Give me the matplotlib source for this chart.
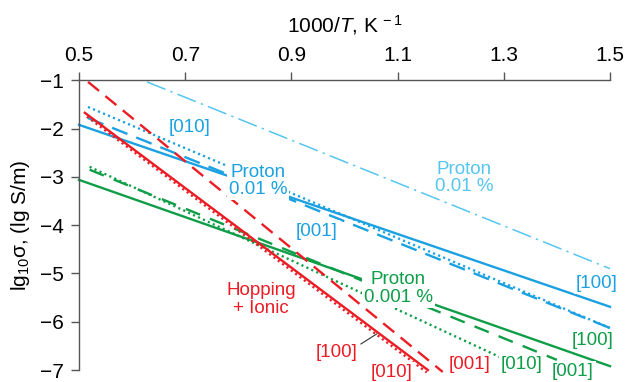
"""Conductivity vs inverse temperature (Arrhenius plot), matplotlib."""

import matplotlib
matplotlib.use("Agg")
import matplotlib.pyplot as plt

plt.rcParams["font.family"] = ["Liberation Sans", "DejaVu Sans"]
plt.rcParams["mathtext.fontset"] = "custom"
plt.rcParams["mathtext.rm"] = "Liberation Sans"
plt.rcParams["mathtext.it"] = "Liberation Sans:italic"

BLUE = "#1ba1e2"
LIGHT_BLUE = "#55c6ef"
GREEN = "#0f9d48"
RED = "#ec1c24"

# line end points (1000/T, lg sigma)
blue_100_x = [0.5, 1.5]
blue_100_y = [-1.92, -5.69]
blue_010_x = [0.517, 1.5]
blue_010_y = [-1.55, -6.13]
blue_001_x = [0.517, 1.5]
blue_001_y = [-1.78, -6.13]
proton_high_x = [0.628, 1.5]
proton_high_y = [-1.03, -4.9]

green_100_x = [0.5, 1.5]
green_100_y = [-3.06, -6.92]
green_010_x = [0.52, 1.355]
green_010_y = [-2.79, -7.05]
green_001_x = [0.52, 1.40]
green_001_y = [-2.85, -6.79]

red_100_x = [0.511, 1.157]
red_100_y = [-1.67, -7.0]
red_010_x = [0.515, 1.155]
red_010_y = [-1.75, -7.05]
red_001_x = [0.517, 1.185]
red_001_y = [-1.03, -7.04]

x_ticks = [0.5, 0.7, 0.9, 1.1, 1.3, 1.5]
y_ticks = [-1, -2, -3, -4, -5, -6, -7]

fig = plt.figure(figsize=(6.28, 3.82), dpi=100)
ax = fig.add_axes([0.1258, 0.0314, 0.8455, 0.758])

DOT = (0.9, 1.4)
lw = 1.7
ax.plot(blue_100_x, blue_100_y, color=BLUE, lw=lw, clip_on=False)
ax.plot(blue_010_x, blue_010_y, color=BLUE, lw=lw, dashes=DOT, clip_on=False)
ax.plot(blue_001_x, blue_001_y, color=BLUE, lw=lw, dashes=(7, 4), clip_on=False)
ax.plot(proton_high_x, proton_high_y, color=LIGHT_BLUE, lw=1.1,
        dashes=(13, 3.5, 1.5, 3.5), clip_on=False)

ax.plot(green_100_x, green_100_y, color=GREEN, lw=lw, clip_on=False)
ax.plot(green_010_x, green_010_y, color=GREEN, lw=lw, dashes=DOT, clip_on=False)
ax.plot(green_001_x, green_001_y, color=GREEN, lw=lw, dashes=(6.5, 4.5), clip_on=False)

ax.plot(red_100_x, red_100_y, color=RED, lw=lw, clip_on=False)
ax.plot(red_010_x, red_010_y, color=RED, lw=lw, dashes=DOT, clip_on=False)
ax.plot(red_001_x, red_001_y, color=RED, lw=lw, dashes=(6, 3.5), clip_on=False)

box = dict(facecolor="white", edgecolor="none", pad=1.5)
fs = 13.5


def label(x, y, s, color, **kw):
    ax.text(x, y, s, color=color, fontsize=fs, ha="center", va="center",
            multialignment="center", linespacing=1.05, bbox=box, **kw)


label(0.709, -1.98, "[010]", BLUE)
label(0.837, -3.08, "Proton\n0.01 %", BLUE)
label(0.948, -4.12, "[001]", BLUE)
label(1.475, -5.21, "[100]", BLUE)
label(1.225, -3.02, "Proton\n0.01 %", LIGHT_BLUE)

label(1.101, -5.31, "Proton\n0.001 %", GREEN)
label(1.468, -6.39, "[100]", GREEN)
label(1.334, -6.89, "[010]", GREEN)
label(1.430, -7.03, "[001]", GREEN)

label(0.843, -5.54, "Hopping\n+ Ionic", RED)
label(1.236, -6.89, "[001]", RED)
label(1.089, -7.06, "[010]", RED)
ax.annotate("[100]", xy=(1.061, -6.25), xytext=(0.986, -6.64), color=RED,
            fontsize=fs, ha="center", va="center",
            arrowprops=dict(arrowstyle="-", color="#333333", lw=0.8,
                            shrinkA=0, shrinkB=0,
                            relpos=(1.0, 0.9)))

ax.set_xlim(0.5, 1.5)
ax.set_ylim(-7, -1)
ax.set_xticks(x_ticks)
ax.set_xticklabels([f"{v:.1f}" for v in x_ticks])
ax.set_yticks(y_ticks)
ax.xaxis.tick_top()
ax.xaxis.set_label_position("top")
ax.tick_params(direction="out", length=6, width=1, color="#555555",
               labelsize=15, pad=5)
ax.spines["right"].set_visible(False)
ax.spines["bottom"].set_visible(False)
for side in ("left", "top"):
    ax.spines[side].set_color("#555555")
    ax.spines[side].set_linewidth(1)

ax.set_xlabel(r"1000/$\it{T}$, K$^{\,-1}$", fontsize=15, labelpad=10)
ax.set_ylabel(r"lg$_{10}$σ, (lg S/m)", fontsize=15, labelpad=6)

fig.savefig("out.png", dpi=100)
